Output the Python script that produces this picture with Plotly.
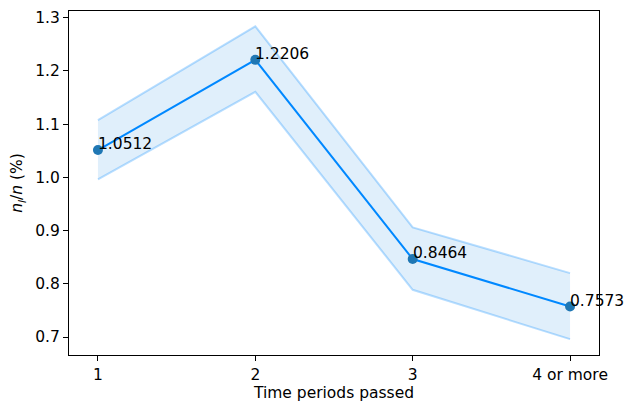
import plotly.graph_objects as go

x_vals = [1, 2, 3, 4]
x_labels = ["1", "2", "3", "4 or more"]
y_vals = [1.0512, 1.2206, 0.8464, 0.7573]
upper = [1.1074, 1.2837, 0.9060, 0.8200]
lower = [0.9962, 1.1605, 0.7887, 0.6960]
y_ticks = [0.7, 0.8, 0.9, 1.0, 1.1, 1.2, 1.3]

font = dict(family="DejaVu Sans", size=15.5, color="black")

fig = go.Figure()
fig.add_trace(go.Scatter(x=x_vals, y=upper, mode="lines",
                         line=dict(color="rgba(0,136,255,0.28)", width=2),
                         showlegend=False, hoverinfo="skip"))
fig.add_trace(go.Scatter(x=x_vals, y=lower, mode="lines", fill="tonexty",
                         fillcolor="rgba(0,120,220,0.12)",
                         line=dict(color="rgba(0,136,255,0.28)", width=2),
                         showlegend=False, hoverinfo="skip"))
fig.add_trace(go.Scatter(x=x_vals, y=y_vals, mode="lines",
                         line=dict(color="#0088ff", width=2), showlegend=False))
fig.add_trace(go.Scatter(x=x_vals, y=y_vals, mode="markers",
                         marker=dict(color="#1f77b4", size=10), showlegend=False))

for xv, yv in zip(x_vals, y_vals):
    fig.add_annotation(x=xv, y=yv, text=f"{yv:.4f}", showarrow=False,
                       xanchor="left", yanchor="bottom", xshift=-2, yshift=-5,
                       font=dict(family="DejaVu Sans", size=15.5, color="black"))

axis_common = dict(showline=True, linecolor="black", linewidth=1, mirror=True,
                   ticks="outside", ticklen=5, tickcolor="black", showgrid=False,
                   zeroline=False, tickfont=font, automargin=False)

fig.update_xaxes(range=[0.816, 4.184], tickvals=x_vals, ticktext=x_labels,
                 title=dict(text="Time periods passed", font=font, standoff=4),
                 **axis_common)
fig.update_yaxes(range=[0.6662, 1.3124], tickvals=y_ticks,
                 ticktext=[f"{v:.1f}" for v in y_ticks],
                 title=dict(text="<i>n</i><sub><i>l</i></sub>/<i>n</i> (%)", font=font, standoff=8),
                 **axis_common)

fig.update_layout(width=627, height=402, plot_bgcolor="white", paper_bgcolor="white",
                  margin=dict(l=69, r=28, t=11, b=47), font=font)

# remove the browser's default body margin so the figure fills the window
fig.write_html("out.html", config={"displayModeBar": False},
               post_script="document.body.style.margin='0';document.body.style.overflow='hidden';")
